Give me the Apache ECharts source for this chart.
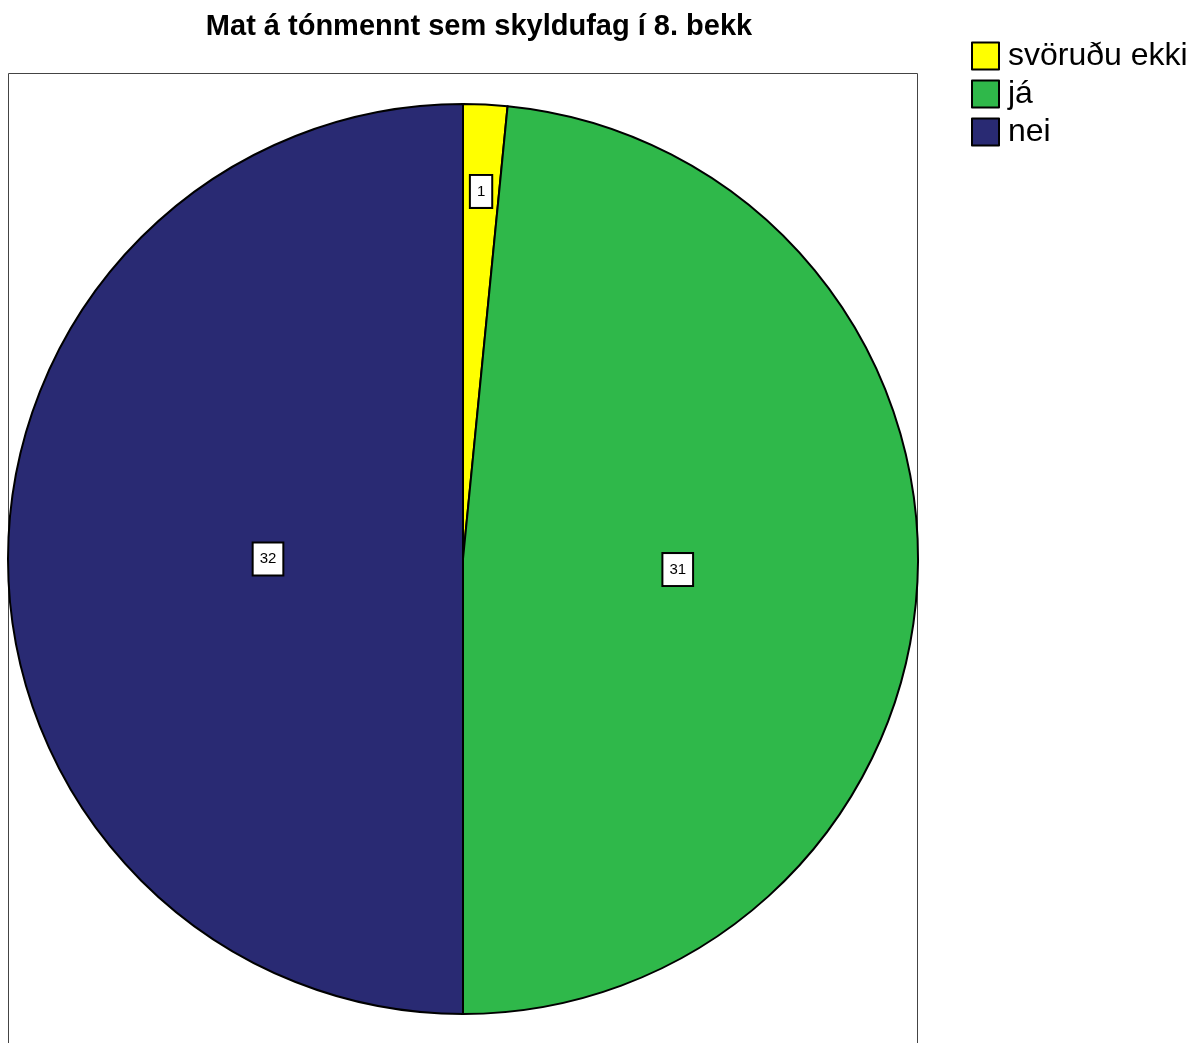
<!DOCTYPE html>
<html><head><meta charset="utf-8">
<script src="https://cdn.jsdelivr.net/npm/echarts@6/dist/echarts.min.js"></script>
<style>html,body{margin:0;padding:0;background:#fff}#c{width:1203px;height:1043px}</style>
</head><body><div id="c"></div>
<script>
const titleText = 'Mat á tónmennt sem skyldufag í 8. bekk';
const categories = ['svöruðu ekki', 'já', 'nei'];
const values = [1, 31, 32];
const colors = ['#FFFF00', '#2FB84A', '#292A73'];

const chart = echarts.init(document.getElementById('c'), null, {renderer: 'canvas'});
const font = '"Liberation Sans", Arial, sans-serif';

const labelBox = {
  show: true, position: 'inside', color: '#000', fontFamily: font, fontSize: 15,
  backgroundColor: '#fff', borderColor: '#000', borderWidth: 2, padding: [8, 6], lineHeight: 15,
  formatter: p => String(p.value)
};

function labelSeries(showIdx, radius) {
  return {
    type: 'pie', center: [463, 559], radius: radius, startAngle: 90, clockwise: true,
    silent: true, legendHoverLink: false, label: labelBox, labelLine: {show: false},
    itemStyle: {color: 'rgba(0,0,0,0)', borderWidth: 0},
    data: categories.map((n, i) => ({name: n, value: values[i], label: {show: showIdx.includes(i)}}))
  };
}

const option = {
  animation: false,
  title: {text: titleText, left: 474, top: 7, textAlign: 'center',
    textStyle: {fontFamily: font, fontSize: 29, fontWeight: 'bold', color: '#000'}},
  legend: {
    orient: 'vertical', left: 971, top: 40, padding: 0, itemWidth: 27, itemHeight: 27, itemGap: 6,
    icon: 'rect', selectedMode: false,
    textStyle: {fontFamily: font, fontSize: 32, color: '#000', padding: [0, 0, 0, 4]},
    itemStyle: {borderColor: '#000', borderWidth: 2},
    data: categories
  },
  graphic: [{type: 'rect', shape: {x: 8.5, y: 73.5, width: 909, height: 1000},
    style: {fill: 'none', stroke: '#444', lineWidth: 1}, z: -1}],
  series: [
    {type: 'pie', center: [463, 559], radius: [0, 455], startAngle: 90, clockwise: true,
      silent: true, label: {show: false}, labelLine: {show: false},
      itemStyle: {borderColor: '#000', borderWidth: 2},
      data: categories.map((n, i) => ({name: n, value: values[i], itemStyle: {color: colors[i]}}))},
    labelSeries([0], [300, 430]),
    labelSeries([1], [0, 424]),
    labelSeries([2], [0, 384])
  ]
};
chart.setOption(option);
</script></body></html>
